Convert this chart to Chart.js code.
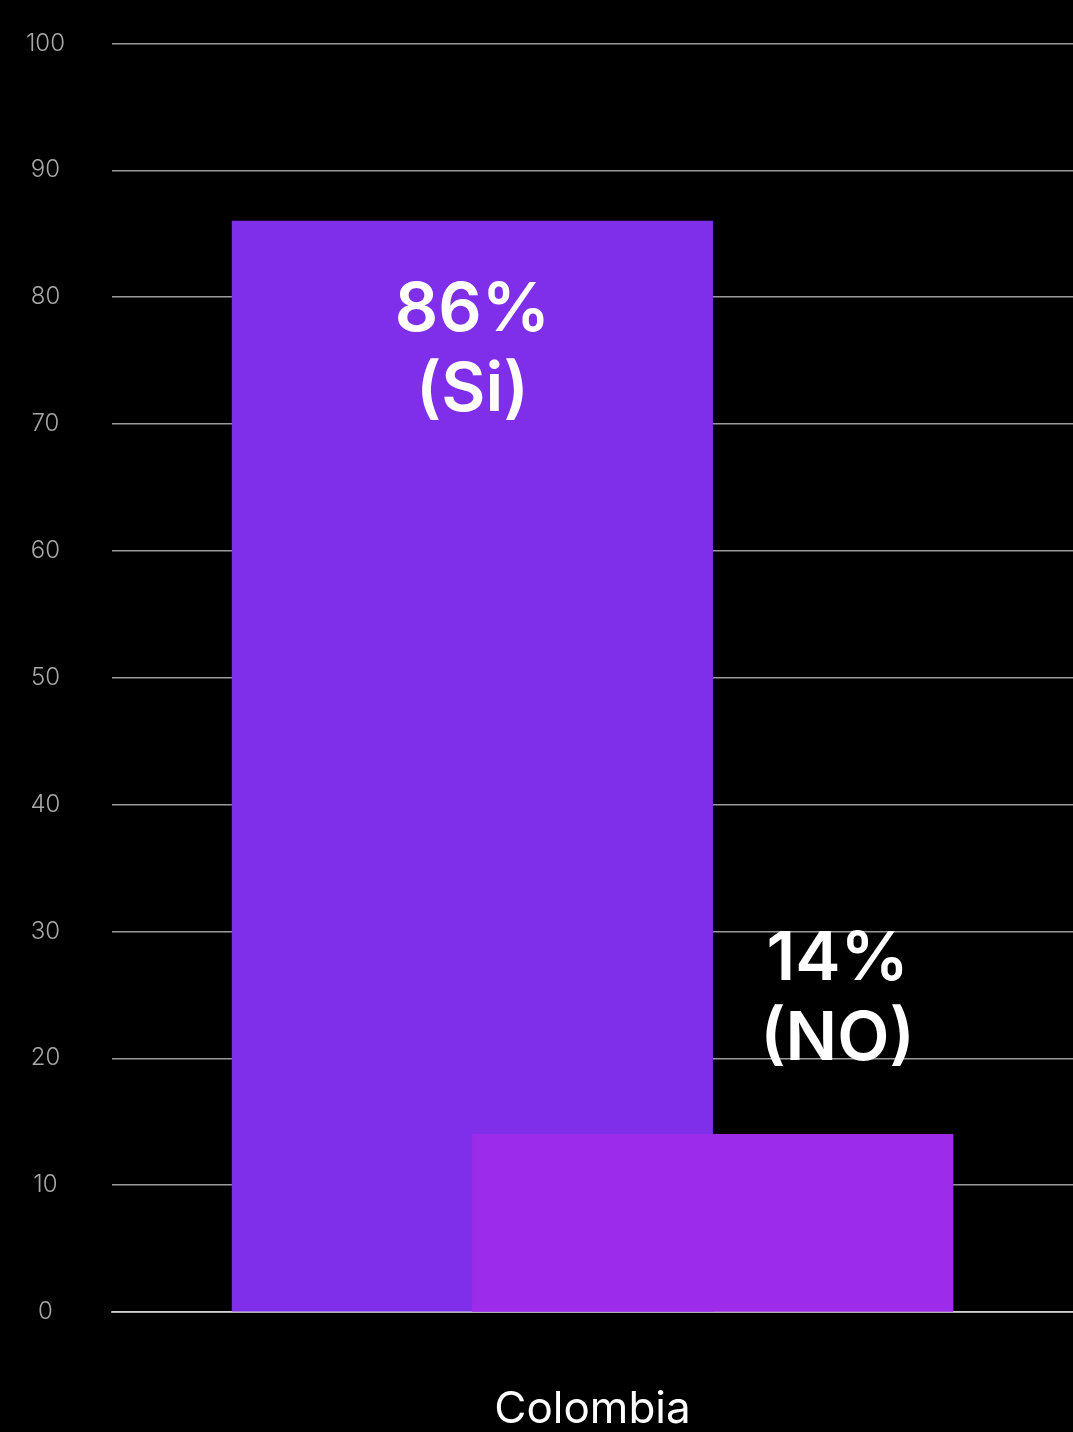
<!DOCTYPE html>
<html>
<head>
<meta charset="utf-8">
<script src="https://cdn.jsdelivr.net/npm/chart.js@4"></script>
<style>
  html, body { margin: 0; padding: 0; background: #000; overflow: hidden; }
  #wrap { width: 1073px; height: 1432px; overflow: hidden; }
  #pollChart { display: block; margin-top: -18px; }
</style>
</head>
<body>
<div id="wrap"><canvas id="pollChart" width="1073" height="1450"></canvas></div>
<script>
// poll result data
const categories = ['Colombia'];
const siValues = [86];
const noValues = [14];
const seriesNames = ['(Si)', '(NO)'];
const barColors = ['#7f2fea', '#9d2bea'];

// the two bars overlap; paint the NO bar again so it sits over the Si bar
const noOnTop = {
    id: 'noOnTop',
    afterDatasetsDraw(chart) {
        chart.getDatasetMeta(1).controller.draw();
    }
};

// white percentage + answer labels for each bar
const barLabels = {
    id: 'barLabels',
    afterDatasetsDraw(chart) {
        const ctx = chart.ctx;
        ctx.save();
        ctx.fillStyle = '#fff';
        ctx.textAlign = 'center';
        ctx.textBaseline = 'middle';
        ctx.font = '600 68px Inter';
        chart.data.datasets.forEach((ds, i) => {
            const bar = chart.getDatasetMeta(i).data[0];
            const value = ds.data[0];
            let cx, cy;
            if (i === 0) {
                // inside the top of the tall bar
                cx = bar.x;
                cy = bar.y + 90;
            } else {
                // above the short bar, shifted right
                cx = bar.x + bar.width * 0.26;
                cy = bar.y - 175;
            }
            ctx.fillText(value + '%', cx, cy);
            ctx.fillText(seriesNames[i], cx, cy + 80);
        });
        ctx.restore();
    }
};

const ctx = document.getElementById('pollChart').getContext('2d');
new Chart(ctx, {
    type: 'bar',
    data: {
        labels: categories,
        datasets: [{
            label: 'Si',
            data: siValues,
            backgroundColor: barColors[0],
            categoryPercentage: 0.5,
            barPercentage: 2
        }, {
            label: 'NO',
            data: noValues,
            backgroundColor: barColors[1],
            categoryPercentage: 0.5,
            barPercentage: 2
        }]
    },
    options: {
        responsive: false,
        animation: false,
        layout: { padding: { top: 0, left: 0, right: 0, bottom: 0 } },
        plugins: {
            legend: { display: false },
            tooltip: { enabled: false }
        },
        scales: {
            x: {
                z: 1,
                grid: { display: false },
                border: { display: true, color: 'rgba(255,255,255,0.55)', width: 2 },
                ticks: {
                    color: '#fff',
                    padding: 63,
                    font: { family: 'Inter', size: 44, weight: 400 }
                },
                afterFit(scale) { scale.height = 120; }
            },
            y: {
                min: 0,
                max: 100,
                grid: { color: '#9a9a9a', lineWidth: 1.5, drawTicks: false },
                border: { display: false },
                ticks: {
                    stepSize: 10,
                    color: '#a8a8a8',
                    padding: 47,
                    crossAlign: 'center',
                    font: { family: 'Inter', size: 24, weight: 300 }
                },
                afterFit(scale) { scale.width = 112; }
            }
        }
    },
    plugins: [noOnTop, barLabels]
});
</script>
</body>
</html>
